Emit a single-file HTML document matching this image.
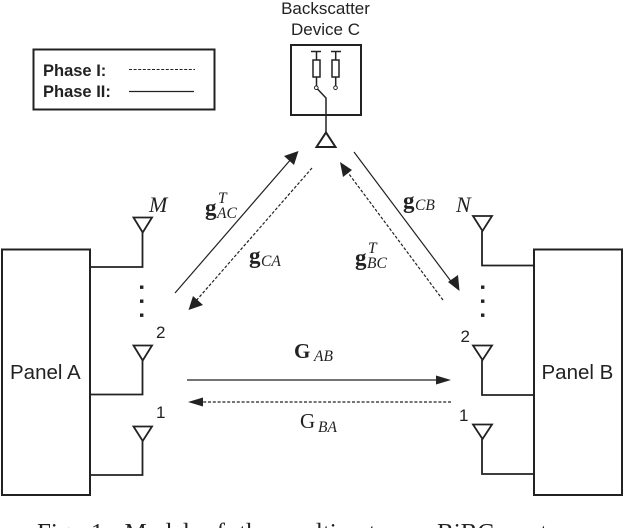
<!DOCTYPE html>
<html>
<head>
<meta charset="utf-8">
<style>
html,body{margin:0;padding:0;background:#fff;}
svg{display:block;}
.s{font-family:"Liberation Sans",sans-serif;fill:#222;}
.m{font-family:"Liberation Serif",serif;fill:#222;}
.i{font-style:italic;}
.b{font-weight:bold;}
</style>
</head>
<body>
<svg width="624" height="528" viewBox="0 0 624 528" xmlns="http://www.w3.org/2000/svg">
<rect width="624" height="528" fill="#fff"/>
<g fill="none" stroke="#222">
<!-- legend -->
<rect x="33.5" y="49.5" width="181" height="60" stroke-width="2"/>
<line x1="129" y1="69.5" x2="195" y2="69.5" stroke-width="1" stroke-dasharray="3 1.6"/>
<line x1="129" y1="91.5" x2="194" y2="91.5" stroke-width="1.2"/>
<!-- panels -->
<rect x="2" y="249.5" width="88" height="245.5" stroke-width="2"/>
<rect x="534" y="249.5" width="88" height="245.5" stroke-width="2"/>
<!-- panel A antennas -->
<g stroke-width="1.8">
<path d="M133.5 217.5H152L142.7 232.5Z"/>
<path d="M142.5 232.5V267H90"/>
<path d="M133.5 345.5H152L142.7 360.5Z"/>
<path d="M142.5 360.5V394.5H90"/>
<path d="M133.5 426.5H152L142.7 441Z"/>
<path d="M142.5 441V475H90"/>
<!-- panel B antennas -->
<path d="M473 216H492L482.5 231Z"/>
<path d="M482 231V265.5H534"/>
<path d="M473 345.5H492L482.5 360Z"/>
<path d="M482 360V395H534"/>
<path d="M473 424.5H492L482.5 439Z"/>
<path d="M482 439V474H534"/>
</g>
<!-- device C -->
<rect x="291" y="45" width="70" height="70" stroke-width="2"/>
<g stroke-width="1.5">
<path d="M311 51.5H321M316.5 51.5V60M316.5 77V85.5"/>
<rect x="313" y="60" width="7" height="17"/>
<path d="M331 51.5H341M335.7 51.5V60M335.7 77V85.5"/>
<rect x="332" y="60" width="7" height="17"/>
<circle cx="316.3" cy="87.7" r="1.8" stroke-width="1"/>
<circle cx="335.5" cy="87.7" r="1.8" stroke-width="1"/>
<path d="M317.5 89L326 98V132"/>
</g>
<path d="M316.5 147H335.5L326 132.5Z" stroke-width="2"/>
<!-- connectors -->
<g stroke-width="1.2">
<line x1="175" y1="293" x2="292" y2="158"/>
<line x1="354" y1="152" x2="453" y2="284"/>
<line x1="187" y1="380" x2="440" y2="380"/>
</g>
<g stroke-width="1.2" stroke-dasharray="3 1.8">
<line x1="312" y1="168" x2="195" y2="302"/>
<line x1="443" y1="300" x2="346" y2="170"/>
<line x1="451" y1="402" x2="198" y2="402"/>
</g>
</g>
<!-- arrowheads -->
<g fill="#222">
<path d="M298.5 151L294 165L284 156Z"/>
<path d="M188.5 310L193 296L203 305Z"/>
<path d="M459.5 291L448 282L458 275Z" />
<path d="M340 162L352 170L343 177Z"/>
<path d="M451 380L436 375.5V384.5Z"/>
<path d="M188 402L203 397.5V406.5Z"/>
<!-- dots -->
<rect x="140" y="285.5" width="3.4" height="3.4"/>
<rect x="140" y="299.5" width="3.4" height="3.4"/>
<rect x="140" y="313.5" width="3.4" height="3.4"/>
<rect x="481" y="285.5" width="3.4" height="3.4"/>
<rect x="481" y="299.5" width="3.4" height="3.4"/>
<rect x="481" y="313.5" width="3.4" height="3.4"/>
</g>
<!-- sans labels -->
<text class="s" x="325.5" y="14" font-size="17" text-anchor="middle">Backscatter</text>
<text class="s" x="325.5" y="35" font-size="17" text-anchor="middle">Device C</text>
<text class="s b" x="43" y="76" font-size="16.5">Phase I:</text>
<text class="s b" x="43" y="97" font-size="16.5">Phase II:</text>
<text class="s" x="10" y="379" font-size="20.5">Panel A</text>
<text class="s" x="541.5" y="379" font-size="20.5">Panel B</text>
<text class="s" x="156" y="338" font-size="17">2</text>
<text class="s" x="156" y="418" font-size="17">1</text>
<text class="s" x="460.5" y="342" font-size="17">2</text>
<text class="s" x="459" y="421" font-size="17">1</text>
<!-- math labels -->
<text class="m i" x="149" y="212" font-size="22" fill="#555">M</text>
<text class="m i" x="456" y="212" font-size="22">N</text>
<text class="m b" x="205" y="215" font-size="23">g</text>
<text class="m i" x="217" y="218" font-size="15.5">AC</text>
<text class="m i" x="218" y="203" font-size="15.5">T</text>
<text class="m b" x="249" y="263" font-size="23">g</text>
<text class="m i" x="261" y="266" font-size="15.5">CA</text>
<text class="m b" x="403" y="208" font-size="23">g</text>
<text class="m i" x="415" y="210" font-size="15.5">CB</text>
<text class="m b" x="355" y="265" font-size="23">g</text>
<text class="m i" x="367" y="268" font-size="15.5">BC</text>
<text class="m i" x="368" y="253" font-size="15.5">T</text>
<text class="m b" x="294" y="358" font-size="21">G</text>
<text class="m i" x="314" y="361" font-size="15.5">AB</text>
<text class="m" x="300" y="428" font-size="21">G</text>
<text class="m i" x="318" y="432" font-size="15.5">BA</text>
<!-- caption -->
<text class="m" x="37" y="540.5" font-size="25" word-spacing="8" fill="#111">Fig. 1: Model of the multi-antenna BiBC system.</text>
</svg>
</body>
</html>
